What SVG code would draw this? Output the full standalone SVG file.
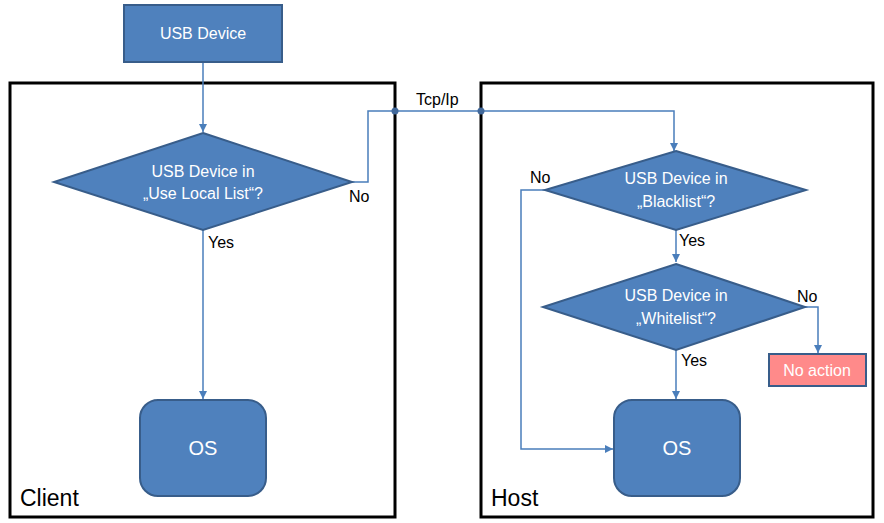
<svg xmlns="http://www.w3.org/2000/svg" width="884" height="523" viewBox="0 0 884 523">
<style>
.shape{fill:#4F81BD;stroke:#385D8A;stroke-width:2}
.frame{fill:none;stroke:#000;stroke-width:3}
.conn{fill:none;stroke:#4A7EBB;stroke-width:1.5}
.wt{fill:#fff;font-family:"Liberation Sans",Arial,sans-serif;font-size:16px;text-anchor:middle}
.lbl{fill:#000;font-family:"Liberation Sans",Arial,sans-serif;font-size:16px}
.big{fill:#000;font-family:"Liberation Sans",Arial,sans-serif;font-size:23px}
</style>
<defs>
<marker id="ah" markerWidth="10" markerHeight="10" refX="8" refY="4" orient="auto" markerUnits="userSpaceOnUse">
<path d="M0,0 L8,4 L0,8 Z" fill="#4A7EBB"/>
</marker>
</defs>
<g id="client-frame"><rect class="frame" x="10" y="83" width="385" height="434"/><text class="big" x="20" y="506">Client</text></g>
<g id="host-frame"><rect class="frame" x="481" y="83" width="392" height="434"/><text class="big" x="491" y="506">Host</text></g>
<g id="connectors">
<path class="conn" d="M203,62 V132" marker-end="url(#ah)"/>
<path class="conn" d="M352,182 H368 V111 H674 V151" marker-end="url(#ah)"/>
<circle cx="395" cy="111" r="3.5" fill="#41689A"/>
<circle cx="481" cy="111" r="3.5" fill="#41689A"/>
<path class="conn" d="M203,230 V399" marker-end="url(#ah)"/>
<path class="conn" d="M676,230 V262" marker-end="url(#ah)"/>
<path class="conn" d="M805,307 H818 V353" marker-end="url(#ah)"/>
<path class="conn" d="M676,350 V399" marker-end="url(#ah)"/>
<path class="conn" d="M545,190 H521 V449 H613" marker-end="url(#ah)"/>
<text class="lbl" x="416" y="105">Tcp/Ip</text>
<text class="lbl" x="349" y="202">No</text>
<text class="lbl" x="208" y="248">Yes</text>
<text class="lbl" x="530" y="183">No</text>
<text class="lbl" x="679" y="246">Yes</text>
<text class="lbl" x="797" y="302">No</text>
<text class="lbl" x="681" y="366">Yes</text>
</g>
<g id="usb-device"><rect class="shape" x="124" y="5" width="158" height="57"/><text class="wt" x="203" y="39">USB Device</text></g>
<g id="decision-local"><path class="shape" d="M203,133 L352,182 L203,230 L54,182 Z"/><text class="wt" x="203" y="177">USB Device in</text><text class="wt" x="203" y="199">„Use Local List“?</text></g>
<g id="os-client"><rect class="shape" x="140" y="400" width="126" height="96" rx="18"/><text class="wt" x="203" y="455" style="font-size:20px">OS</text></g>
<g id="decision-black"><path class="shape" d="M676,151 L806,190 L676,230 L545,190 Z"/><text class="wt" x="676" y="184">USB Device in</text><text class="wt" x="676" y="207">„Blacklist“?</text></g>
<g id="decision-white"><path class="shape" d="M676,264 L805,307 L676,350 L543,307 Z"/><text class="wt" x="676" y="301">USB Device in</text><text class="wt" x="676" y="324">„Whitelist“?</text></g>
<g id="no-action"><rect x="769" y="354" width="97" height="32" fill="#FF8A8A" stroke="#385D8A" stroke-width="2"/><text class="wt" x="817" y="376">No action</text></g>
<g id="os-host"><rect class="shape" x="614" y="400" width="126" height="96" rx="18"/><text class="wt" x="677" y="455" style="font-size:20px">OS</text></g>
</svg>
